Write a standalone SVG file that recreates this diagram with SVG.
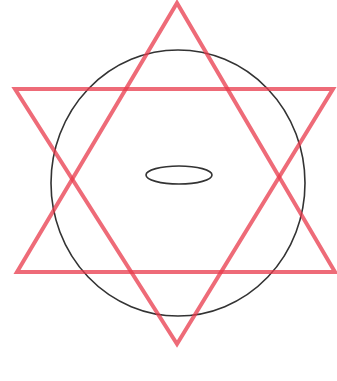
<svg xmlns="http://www.w3.org/2000/svg" width="337" height="381" viewBox="0 0 337 381">
<style>
.tri{fill:none;stroke:#e8394b;stroke-width:4;stroke-opacity:0.75;stroke-linejoin:miter}
.ring{fill:none;stroke:#333;stroke-width:1.6}
</style>
<rect width="337" height="381" fill="#fff"/>
<g id="circle"><ellipse class="ring" cx="178" cy="183" rx="127" ry="133"/></g>
<g id="center"><ellipse class="ring" cx="179" cy="175" rx="33" ry="9" stroke-width="2"/></g>
<g id="triangle-up"><polygon class="tri" points="177,3 17,272 335,272"/></g>
<g id="triangle-down"><polygon class="tri" points="15,89 333,89 177,344"/></g>
</svg>
